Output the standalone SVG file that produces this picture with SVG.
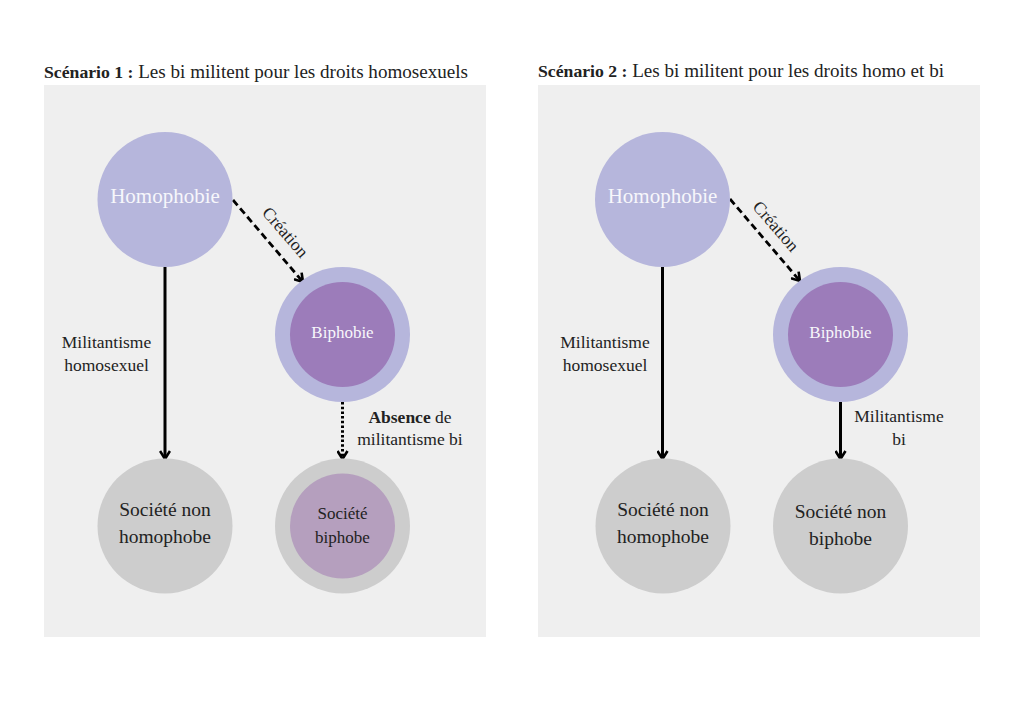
<svg xmlns="http://www.w3.org/2000/svg" width="1024" height="723" viewBox="0 0 1024 723">
<defs>
<style>
text{font-family:"Liberation Serif","Times New Roman",serif;fill:#222}
.title{font-size:19.1px}
.tb{font-weight:bold;font-size:17.7px}
.b{font-weight:bold}
.lbl{font-size:17.5px}
.w{fill:#f7f7fb}
.big{font-size:21px}
.mid{font-size:19.5px}
.sm{font-size:17px}
.panel{fill:#efefef}
.lav{fill:#b6b6dc}
.pur{fill:#9c7cba}
.gray{fill:#cdcdcd}
.mauve{fill:#b59fbe}
.edge{fill:none;stroke:#000;stroke-width:3}
.dash{stroke-dasharray:7 4;stroke-width:2.8}
.dot{stroke-dasharray:2.5 2.2;stroke-width:3}
</style>
<marker id="arr" viewBox="0 0 12 12" refX="10" refY="6" markerWidth="12" markerHeight="12" markerUnits="userSpaceOnUse" orient="auto">
<path d="M2,1 L10,6 L2,11" fill="none" stroke="#000" stroke-width="2.6"/>
</marker>
</defs>
<rect width="1024" height="723" fill="#fff"/>
<g id="panel1">
<text class="title" x="44" y="77.5"><tspan class="tb">Scénario 1 :</tspan> Les bi militent pour les droits homosexuels</text>
<rect class="panel" x="44" y="85" width="442" height="552"/>
</g>
<g id="panel2">
<text class="title" x="538" y="77"><tspan class="tb">Scénario 2 :</tspan> Les bi militent pour les droits homo et bi</text>
<rect class="panel" x="538" y="85" width="442" height="552"/>
</g>
<g id="connectors">
<line class="edge" x1="165" y1="267" x2="165" y2="459" marker-end="url(#arr)"/>
<line class="edge dash" x1="233" y1="200" x2="303" y2="282" marker-end="url(#arr)"/>
<line class="edge dot" x1="342.5" y1="402" x2="342.5" y2="459" marker-end="url(#arr)"/>
<line class="edge" x1="662.5" y1="267" x2="662.5" y2="459" marker-end="url(#arr)"/>
<line class="edge dash" x1="730" y1="199" x2="800" y2="281" marker-end="url(#arr)"/>
<line class="edge" x1="840.5" y1="402" x2="840.5" y2="459" marker-end="url(#arr)"/>
<text class="lbl" transform="translate(281,236) rotate(49)" text-anchor="middle">Création</text>
<text class="lbl" text-anchor="middle" x="106.5" y="348">Militantisme</text>
<text class="lbl" text-anchor="middle" x="106.5" y="371">homosexuel</text>
<text class="lbl" text-anchor="middle" x="410" y="422.5"><tspan class="b">Absence</tspan> de</text>
<text class="lbl" text-anchor="middle" x="410" y="445">militantisme bi</text>
<text class="lbl" transform="translate(771.5,230) rotate(49)" text-anchor="middle">Création</text>
<text class="lbl" text-anchor="middle" x="605" y="348">Militantisme</text>
<text class="lbl" text-anchor="middle" x="605" y="371">homosexuel</text>
<text class="lbl" text-anchor="middle" x="899" y="422">Militantisme</text>
<text class="lbl" text-anchor="middle" x="899" y="445">bi</text>
</g>
<g id="homophobie1">
<circle class="lav" cx="165" cy="199.5" r="67.5"/>
<text class="big w" text-anchor="middle" x="165" y="203">Homophobie</text>
</g>
<g id="biphobie1">
<circle class="lav" cx="342.5" cy="334.5" r="67.5"/>
<circle class="pur" cx="342.5" cy="334.5" r="52.5"/>
<text class="sm w" text-anchor="middle" x="342.5" y="337.5">Biphobie</text>
</g>
<g id="societe-non-homophobe1">
<circle class="gray" cx="165" cy="526" r="67.5"/>
<text class="mid" text-anchor="middle" x="165" y="516">Société non</text>
<text class="mid" text-anchor="middle" x="165" y="542.5">homophobe</text>
</g>
<g id="societe-biphobe1">
<circle class="gray" cx="342.5" cy="526" r="67.5"/>
<circle class="mauve" cx="342.5" cy="526" r="52.5"/>
<text class="sm" text-anchor="middle" x="342.5" y="519">Société</text>
<text class="sm" text-anchor="middle" x="342.5" y="542.5">biphobe</text>
</g>
<g id="homophobie2">
<circle class="lav" cx="662.5" cy="199.5" r="67.5"/>
<text class="big w" text-anchor="middle" x="662.5" y="203">Homophobie</text>
</g>
<g id="biphobie2">
<circle class="lav" cx="840.5" cy="334.5" r="67.5"/>
<circle class="pur" cx="840.5" cy="334.5" r="52.5"/>
<text class="sm w" text-anchor="middle" x="840.5" y="337.5">Biphobie</text>
</g>
<g id="societe-non-homophobe2">
<circle class="gray" cx="663" cy="526" r="67.5"/>
<text class="mid" text-anchor="middle" x="663" y="516">Société non</text>
<text class="mid" text-anchor="middle" x="663" y="542.5">homophobe</text>
</g>
<g id="societe-non-biphobe2">
<circle class="gray" cx="840.5" cy="526" r="67.5"/>
<text class="mid" text-anchor="middle" x="840.5" y="518">Société non</text>
<text class="mid" text-anchor="middle" x="840.5" y="544.5">biphobe</text>
</g>
</svg>
